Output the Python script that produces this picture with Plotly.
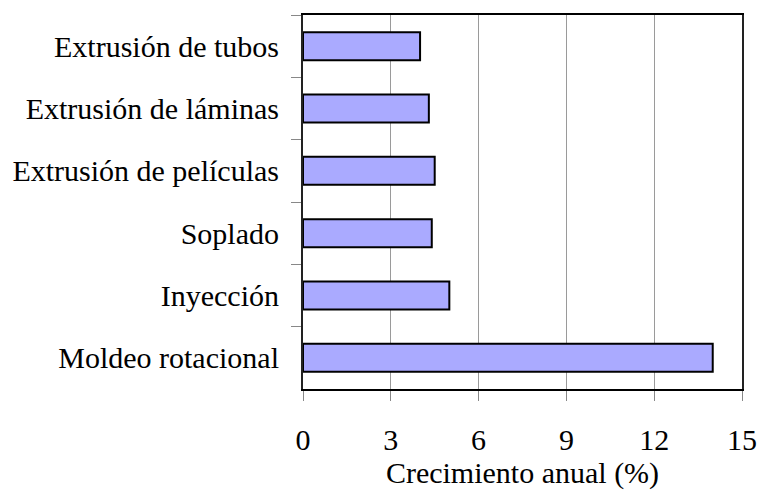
import plotly.graph_objects as go

# ── Data (top to bottom as drawn) ───────────────────────────────
PROCESOS = [
    "Extrusión de tubos",
    "Extrusión de láminas",
    "Extrusión de películas",
    "Soplado",
    "Inyección",
    "Moldeo rotacional",
]
CRECIMIENTO = [4.0, 4.3, 4.5, 4.4, 5.0, 14.0]
X_TICKS = [0, 3, 6, 9, 12, 15]

FONT = "Liberation Serif, Times New Roman, serif"

fig = go.Figure(go.Bar(
    x=CRECIMIENTO,
    y=PROCESOS,
    orientation="h",
    width=0.45,
    marker=dict(color="#aaaaff", line=dict(color="#000000", width=2)),
    hovertemplate="<b>%{y}</b><br>%{x:.1f}%<extra></extra>",
))

fig.update_layout(
    width=757,
    height=490,
    paper_bgcolor="white",
    plot_bgcolor="white",
    font=dict(family=FONT, size=30, color="#000000"),
    margin=dict(l=303, r=15, t=15, b=101),
    showlegend=False,
    xaxis=dict(
        automargin=False,
        range=[0, 15],
        tickvals=X_TICKS,
        ticks="outside",
        ticklen=10,
        tickcolor="#888888",
        tickwidth=1,
        ticklabelstandoff=13,
        showgrid=True,
        gridcolor="#9a9a9a",
        gridwidth=1,
        zeroline=False,
        showline=True,
        linecolor="#000000",
        linewidth=2,
        mirror=True,
        title=dict(text="Crecimiento anual (%)", standoff=2,
                   font=dict(family=FONT, size=30)),
    ),
    yaxis=dict(
        automargin=False,
        categoryorder="array",
        categoryarray=PROCESOS,
        autorange="reversed",
        tickson="boundaries",
        ticks="outside",
        ticklen=10,
        tickcolor="#888888",
        tickwidth=1,
        ticklabelstandoff=16,
        showgrid=False,
        zeroline=False,
        showline=True,
        linecolor="#222222",
        linewidth=2,
        mirror=True,
    ),
)

# drop the default page margin so the figure sits at the top-left corner
fig.write_html(
    "out.html",
    config={"displayModeBar": False},
    post_script="document.body.style.margin='0';",
)
